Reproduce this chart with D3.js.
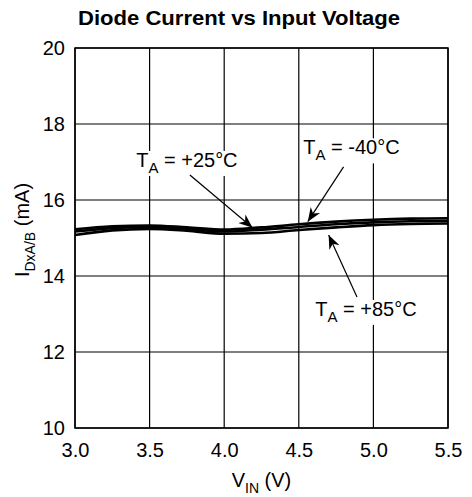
<!DOCTYPE html>
<html><head><meta charset="utf-8">
<script src="https://cdn.jsdelivr.net/npm/d3@7"></script>
<style>body{margin:0;background:#fff}</style>
</head><body>
<script>
const vin = [3.0, 3.25, 3.5, 3.75, 4.0, 4.25, 4.5, 4.75, 5.0, 5.25, 5.5];
const iM40 = [15.23, 15.31, 15.33, 15.28, 15.22, 15.28, 15.36, 15.43, 15.48, 15.51, 15.52];
const i25  = [15.17, 15.26, 15.29, 15.24, 15.17, 15.22, 15.29, 15.36, 15.41, 15.44, 15.45];
const i85  = [15.08, 15.20, 15.24, 15.19, 15.11, 15.13, 15.21, 15.28, 15.34, 15.37, 15.38];
const xTicks = [3.0, 3.5, 4.0, 4.5, 5.0, 5.5];
const yTicks = [10, 12, 14, 16, 18, 20];
const labels = [
  {sub: "A", text: " = +25°C", lx: 3.41, ly: 16.87, ax: 3.77, ay: 16.66, bx: 4.19, by: 15.27},
  {sub: "A", text: " = -40°C", lx: 4.53, ly: 17.2, ax: 4.80, ay: 16.87, bx: 4.56, by: 15.43},
  {sub: "A", text: " = +85°C", lx: 4.61, ly: 12.95, ax: 4.89, ay: 13.45, bx: 4.70, by: 15.08}
];

const W = 472, H = 497;
const m = {l: 75, r: 24, t: 48, b: 69};
const FF = "'Liberation Sans', Arial, sans-serif";
const svg = d3.select("body").append("svg").attr("width", W).attr("height", H)
  .style("font-family", FF);
const x = d3.scaleLinear().domain([3.0, 5.5]).range([m.l, W - m.r]);
const y = d3.scaleLinear().domain([10, 20]).range([H - m.b, m.t]);

// grid
svg.append("g").selectAll("line").data(xTicks).join("line")
  .attr("x1", d => x(d)).attr("x2", d => x(d)).attr("y1", y(10)).attr("y2", y(20))
  .attr("stroke", "#000").attr("stroke-width", 1.2);
svg.append("g").selectAll("line").data(yTicks).join("line")
  .attr("y1", d => y(d)).attr("y2", d => y(d)).attr("x1", x(3)).attr("x2", x(5.5))
  .attr("stroke", "#000").attr("stroke-width", 1.2);
svg.append("rect").attr("x", x(3)).attr("y", y(20)).attr("width", x(5.5) - x(3)).attr("height", y(10) - y(20))
  .attr("fill", "none").attr("stroke", "#000").attr("stroke-width", 1.5);

// axes labels
const xAxis = d3.axisBottom(x).tickValues(xTicks).tickFormat(d3.format(".1f")).tickSize(0).tickPadding(15);
const gx = svg.append("g").attr("transform", `translate(0,${y(10)})`).call(xAxis);
gx.select(".domain").remove();
gx.selectAll("text").attr("font-size", 20).attr("fill", "#000").attr("font-family", FF);
const yAxis = d3.axisLeft(y).tickValues(yTicks).tickSize(0).tickPadding(10);
const gy = svg.append("g").attr("transform", `translate(${x(3)},0)`).call(yAxis);
gy.select(".domain").remove();
gy.selectAll("text").attr("font-size", 20).attr("fill", "#000").attr("font-family", FF);

// curves
const line = d3.line().x((d, i) => x(vin[i])).y(d => y(d)).curve(d3.curveMonotoneX);
[iM40, i25, i85].forEach(s => {
  svg.append("path").datum(s).attr("d", line).attr("fill", "none")
    .attr("stroke", "#000").attr("stroke-width", 2.6);
});

// arrow marker
svg.append("defs").append("marker").attr("id", "ah").attr("viewBox", "0 0 10 10")
  .attr("refX", 10).attr("refY", 5).attr("markerWidth", 14).attr("markerHeight", 14)
  .attr("markerUnits", "userSpaceOnUse").attr("orient", "auto")
  .append("path").attr("d", "M0,1 L10,5 L0,9 L3,5 Z").attr("fill", "#000");

labels.forEach(l => {
  const g = svg.append("g");
  const t = g.append("text").attr("x", x(l.lx)).attr("y", y(l.ly)).attr("font-size", 20).attr("fill", "#000");
  t.append("tspan").text("T");
  t.append("tspan").attr("dy", 6).attr("font-size", 15).text(l.sub);
  t.append("tspan").attr("dy", -6).text(l.text);
  const bb = t.node().getBBox();
  g.insert("rect", "text").attr("x", bb.x - 1).attr("y", bb.y + 2).attr("width", bb.width + 2).attr("height", bb.height - 2).attr("fill", "#fff");
  svg.append("line").attr("x1", x(l.ax)).attr("y1", y(l.ay)).attr("x2", x(l.bx)).attr("y2", y(l.by))
    .attr("stroke", "#000").attr("stroke-width", 1.2).attr("marker-end", "url(#ah)");
});

// title
svg.append("text").attr("x", 239).attr("y", 25).attr("text-anchor", "middle")
  .attr("font-size", 20).attr("font-weight", "bold")
  .attr("textLength", 322).attr("lengthAdjust", "spacingAndGlyphs")
  .text("Diode Current vs Input Voltage");

// x title
const xt = svg.append("text").attr("x", x(4.25)).attr("y", 487).attr("text-anchor", "middle").attr("font-size", 20);
xt.append("tspan").text("V");
xt.append("tspan").attr("dy", 6).attr("font-size", 14).text("IN");
xt.append("tspan").attr("dy", -6).text(" (V)");

// y title
const yt = svg.append("text").attr("transform", `translate(29,${y(15.21)}) rotate(-90)`).attr("text-anchor", "middle").attr("font-size", 20);
yt.append("tspan").text("I");
yt.append("tspan").attr("dy", 6).attr("font-size", 14).text("DxA/B");
yt.append("tspan").attr("dy", -6).text(" (mA)");
</script>
</body></html>
